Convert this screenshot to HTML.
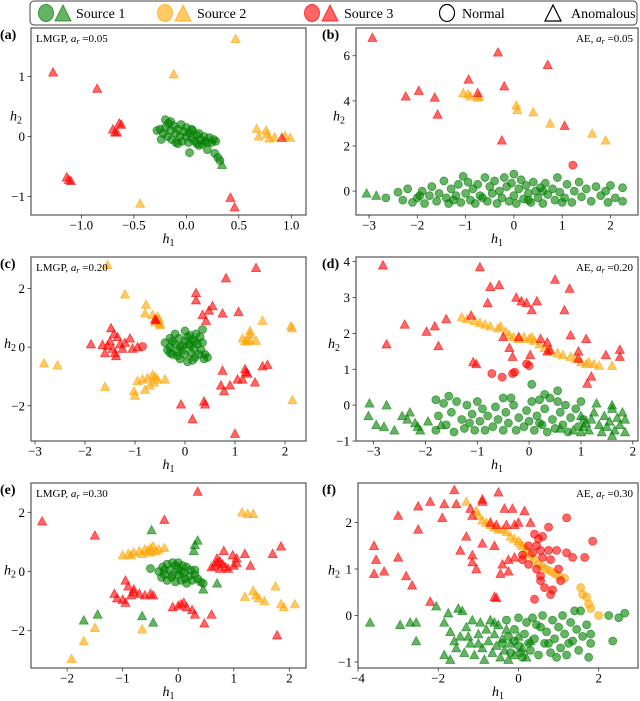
<!DOCTYPE html>
<html><head><meta charset="utf-8">
<style>
body{margin:0;background:#fff;}
svg{display:block;font-family:"Liberation Serif",serif;}
</style></head>
<body>
<svg id="fig" width="640" height="701" viewBox="0 0 640 701" xmlns="http://www.w3.org/2000/svg">
  <g>
    <rect x="30" y="1" width="607" height="24" rx="4" fill="#fff" stroke="#444" stroke-width="1"/>
    <g>
      <ellipse cx="46" cy="13" rx="7.5" ry="8.5" fill="rgba(0,128,0,0.6)" stroke="rgba(0,128,0,0.7)"/>
      <polygon points="55,21 63,5 71,21" fill="rgba(0,128,0,0.6)" stroke="rgba(0,128,0,0.7)"/>
      <text x="76" y="18" font-size="14">Source 1</text>
    </g>
    <g>
      <ellipse cx="165" cy="13" rx="7.5" ry="8.5" fill="rgba(255,165,0,0.6)" stroke="rgba(255,165,0,0.7)"/>
      <polygon points="175,21 183,5 191,21" fill="rgba(255,165,0,0.6)" stroke="rgba(255,165,0,0.7)"/>
      <text x="197" y="18" font-size="14">Source 2</text>
    </g>
    <g>
      <ellipse cx="312" cy="13" rx="7.5" ry="8.5" fill="rgba(255,0,0,0.6)" stroke="rgba(255,0,0,0.7)"/>
      <polygon points="322,21 330,5 338,21" fill="rgba(255,0,0,0.6)" stroke="rgba(255,0,0,0.7)"/>
      <text x="344" y="18" font-size="14">Source 3</text>
    </g>
    <g>
      <ellipse cx="447" cy="13" rx="7.5" ry="8.5" fill="none" stroke="#000" stroke-width="1.2"/>
      <text x="462" y="18" font-size="14">Normal</text>
    </g>
    <g>
      <polygon points="545,21 553,5 561,21" fill="none" stroke="#000" stroke-width="1.2"/>
      <text x="571" y="18" font-size="14">Anomalous</text>
    </g>
  </g>
</svg>
<script>
// ---- Panel (a) data ----
const aGreenCirc=[[-0.28,0.1],[-0.25,0.12],[-0.22,0.05],[-0.2,0.15],[-0.2,0.28],[-0.17,0.22],[-0.18,0.0],[-0.15,0.1],[-0.14,-0.05],[-0.12,0.18],[-0.1,0.05],[-0.1,-0.1],[-0.08,0.12],[-0.06,0.0],[-0.05,0.2],[-0.04,-0.08],[-0.02,0.08],[0.0,0.0],[0.0,0.15],[0.02,-0.1],[0.03,0.05],[0.05,-0.03],[0.06,0.1],[0.08,-0.08],[0.1,0.02],[0.1,-0.12],[0.12,0.05],[0.14,-0.05],[0.15,-0.13],[0.17,0.0],[0.18,-0.08],[0.2,-0.1],[0.22,-0.02],[0.24,-0.1],[0.26,-0.05],[0.28,-0.08],[0.2,-0.22],[0.27,-0.28],[0.3,-0.35],[0.32,-0.4],[0.03,-0.27],[-0.15,0.25],[-0.24,-0.05],[-0.08,-0.12],[0.05,0.12],[0.12,-0.15]];
const aGreenTri=[[0.34,-0.47]];
const aOrangeCirc=[];
const aOrangeTri=[[0.47,1.63],[-0.12,1.04],[-0.44,-1.12],[0.67,0.13],[0.69,0.0],[0.76,0.1],[0.77,0.04],[0.79,-0.03],[0.84,-0.01],[0.94,0.01],[0.99,-0.02]];
const aRedCirc=[];
const aRedTri=[[-1.27,1.07],[-0.85,0.8],[-0.64,0.22],[-0.62,0.2],[-0.7,0.12],[-0.68,0.07],[-0.66,0.07],[-1.14,-0.68],[-1.12,-0.72],[-1.1,-0.74],[0.42,-1.02],[0.46,-1.18],[0.91,-0.02]];
// ---- Panel (b) data ----
const bGreenCirc=[[-2.65,-0.3],[-2.4,-0.05],[-2.3,-0.4],[-2.2,0.1],[-2.1,-0.5],[-2.0,-0.3],[-1.9,0.0],[-1.85,-0.55],[-1.75,-0.2],[-1.7,0.2],[-1.6,-0.45],[-1.55,-0.1],[-1.45,0.45],[-1.4,-0.3],[-1.35,-0.55],[-1.3,0.1],[-1.2,-0.2],[-1.15,0.3],[-1.1,-0.5],[-1.05,0.65],[-1.0,-0.1],[-0.95,0.4],[-0.9,-0.4],[-0.85,0.1],[-0.8,-0.55],[-0.75,0.3],[-0.7,-0.2],[-0.6,0.6],[-0.55,-0.45],[-0.5,0.2],[-0.45,-0.1],[-0.4,0.45],[-0.35,-0.55],[-0.3,0.0],[-0.25,-0.3],[-0.2,0.6],[-0.15,0.2],[-0.1,-0.45],[-0.05,0.35],[0.0,0.75],[0.0,-0.2],[0.05,-0.55],[0.1,0.1],[0.15,0.5],[0.2,-0.35],[0.25,0.25],[0.3,-0.1],[0.35,-0.5],[0.4,0.4],[0.45,0.0],[0.5,-0.3],[0.55,0.15],[0.6,-0.55],[0.65,0.35],[0.7,-0.15],[0.8,0.1],[0.85,-0.4],[0.9,0.6],[0.95,-0.05],[1.05,-0.3],[1.1,0.3],[1.2,-0.5],[1.25,0.0],[1.35,0.4],[1.4,-0.25],[1.5,0.1],[1.6,-0.45],[1.7,0.2],[1.8,-0.2],[1.9,0.0],[1.95,-0.5],[2.0,0.25],[2.1,-0.3],[2.25,0.15],[2.25,-0.45],[-1.95,-0.2],[-1.25,-0.4],[-0.65,-0.3],[0.3,-0.4],[1.0,-0.5],[0.6,0.0]];
const bGreenTri=[[-3.05,-0.1],[-2.85,-0.2]];
const bOrangeCirc=[];
const bOrangeTri=[[-1.05,4.35],[-0.95,4.3],[-0.9,4.2],[-0.75,4.15],[-0.72,4.2],[0.05,3.8],[0.07,3.6],[0.4,3.5],[0.75,3.0],[1.62,2.55],[1.9,2.25]];
const bRedCirc=[[1.22,1.15]];
const bRedTri=[[-2.93,6.8],[-2.24,4.2],[-1.97,4.45],[-1.64,4.15],[-1.58,3.4],[-0.94,4.95],[-0.75,4.35],[-0.33,6.15],[-0.2,4.65],[-0.25,2.25],[0.7,5.6],[1.05,2.9]];
// ---- Panel (c) data ----
const cGreenCirc=[[-0.4,0.15],[-0.35,-0.1],[-0.3,0.3],[-0.3,0.0],[-0.25,-0.25],[-0.2,0.45],[-0.2,0.1],[-0.15,-0.15],[-0.12,0.3],[-0.1,-0.4],[-0.05,0.05],[0.0,0.55],[0.0,-0.25],[0.0,0.2],[0.05,-0.5],[0.08,0.1],[0.1,0.4],[0.12,-0.2],[0.15,0.25],[0.18,-0.05],[0.2,-0.35],[0.22,0.45],[0.25,0.1],[0.28,-0.25],[0.3,0.35],[0.32,-0.1],[0.35,0.15],[0.38,-0.4],[0.4,-0.25],[0.45,-0.35],[0.35,0.6],[-0.25,0.2],[-0.1,0.0],[0.05,0.35],[0.15,-0.45],[-0.15,-0.3],[0.1,0.05],[-0.05,-0.1],[0.2,0.2],[-0.3,-0.2]];
const cGreenTri=[];
const cOrangeCirc=[];
const cOrangeTri=[[-1.55,2.8],[-1.2,1.8],[-0.78,1.45],[-0.8,1.15],[-0.65,1.1],[-0.55,1.05],[-0.52,0.95],[-0.6,0.85],[-0.5,0.8],[-0.5,0.75],[1.3,0.55],[1.3,0.45],[1.55,0.9],[1.15,0.3],[1.3,0.25],[1.25,0.2],[1.42,0.22],[1.2,0.2],[2.12,0.72],[2.14,0.65],[-2.82,-0.55],[-2.55,-0.62],[-1.6,-1.35],[-1.02,-1.5],[-1.0,-1.65],[-0.8,-1.45],[-0.7,-1.3],[-0.95,-1.15],[-0.85,-1.1],[-0.75,-1.05],[-0.6,-1.0],[-0.55,-1.1],[-0.62,-1.2],[-0.4,-1.1],[-0.65,-0.95],[2.15,-1.8]];
const cRedCirc=[[-0.85,0.02]];
const cRedTri=[[1.42,2.7],[0.82,2.35],[0.22,1.85],[0.22,1.6],[0.55,1.4],[0.48,1.25],[0.35,1.1],[0.75,1.15],[1.07,1.2],[0.42,0.9],[-0.6,0.95],[-0.58,0.92],[-1.48,0.65],[-1.42,0.45],[-1.35,0.35],[-1.5,0.2],[-1.1,0.3],[-1.2,0.15],[-1.3,0.1],[-1.88,0.1],[-1.65,0.08],[-1.55,0.05],[-1.45,-0.05],[-1.25,-0.05],[-1.05,-0.05],[-0.95,0.0],[-1.6,-0.2],[-1.4,-0.2],[-1.38,-0.3],[1.2,-0.75],[1.22,-0.85],[1.25,-0.9],[1.55,-0.65],[1.65,-0.6],[0.75,-0.8],[1.05,-1.1],[1.15,-1.1],[1.4,-1.2],[0.72,-1.3],[0.9,-1.3],[0.78,-1.5],[0.38,-1.85],[0.4,-1.95],[-0.08,-1.95],[0.15,-2.45],[1.0,-2.95]];
// ---- Panel (d) data ----
const dGreenCirc=[[-1.8,0.15],[-1.8,-0.7],[-1.75,-0.3],[-1.65,0.05],[-1.6,-0.55],[-1.55,0.25],[-1.5,-0.2],[-1.45,-0.75],[-1.4,0.1],[-1.3,-0.4],[-1.25,-0.65],[-1.2,0.0],[-1.1,-0.25],[-1.05,-0.7],[-1.0,0.1],[-0.95,-0.45],[-0.9,-0.1],[-0.85,-0.7],[-0.8,-0.3],[-0.7,-0.6],[-0.65,-0.05],[-0.6,-0.4],[-0.5,0.2],[-0.5,-0.7],[-0.45,-0.2],[-0.4,-0.5],[-0.3,0.0],[-0.25,-0.7],[-0.2,-0.35],[-0.1,-0.6],[-0.05,-0.15],[0.0,-0.45],[0.05,0.1],[0.1,-0.7],[0.15,-0.3],[0.2,0.15],[0.25,-0.55],[0.3,-0.1],[0.35,-0.75],[0.4,0.2],[0.45,-0.4],[0.5,-0.65],[0.55,0.1],[0.6,-0.2],[0.65,-0.55],[0.7,0.0],[0.75,-0.75],[0.8,-0.35],[0.9,-0.1],[0.95,-0.6],[1.0,0.1],[1.05,-0.4],[0.05,0.58],[0.55,0.4],[0.3,0.3],[-0.35,0.2],[-1.15,-0.5],[0.2,-0.5]];
const dGreenTri=[[-3.08,0.05],[-3.1,-0.3],[-2.95,-0.55],[-2.8,-0.6],[-2.75,0.0],[-2.6,-0.7],[-2.45,-0.3],[-2.35,-0.4],[-2.3,-0.2],[-2.2,-0.5],[-2.15,-0.6],[-2.1,-0.7],[-1.95,-0.45],[-1.7,-0.55],[1.0,-0.3],[1.05,-0.6],[1.1,-0.5],[1.15,-0.7],[1.2,-0.4],[1.25,-0.2],[1.3,0.05],[1.35,-0.55],[1.4,-0.75],[1.45,-0.3],[1.5,-0.6],[1.55,-0.45],[1.6,-0.1],[1.6,0.0],[1.65,-0.7],[1.7,-0.35],[1.75,-0.55],[1.8,-0.2],[1.85,-0.75],[1.85,-0.4],[0.85,-0.7],[0.6,-0.65],[1.0,-0.75],[1.6,-0.85]];
const dOrangeCirc=[];
const dOrangeTri=[[-1.3,2.45],[-1.2,2.4],[-1.05,2.35],[-0.95,2.3],[-0.85,2.25],[-0.75,2.2],[-0.6,2.15],[-0.45,2.05],[-0.38,1.95],[-0.3,1.9],[-0.2,1.85],[-0.1,1.9],[0.0,1.85],[0.1,1.8],[0.2,1.7],[0.3,1.6],[0.4,1.5],[0.55,1.45],[0.65,1.4],[0.8,1.35],[0.9,1.3],[1.0,1.2],[1.1,1.15],[1.15,1.2],[1.25,1.15],[1.35,1.1],[1.6,1.1],[-0.55,2.2],[0.05,1.9]];
const dRedCirc=[[-0.72,0.88],[-0.52,0.78],[-0.32,0.88],[-0.28,0.92],[-0.05,1.15],[0.0,1.1]];
const dRedTri=[[-2.82,3.9],[-0.95,3.85],[-0.8,2.85],[-0.75,3.3],[-0.58,3.35],[-0.25,3.0],[-0.15,2.9],[-0.05,2.85],[0.05,2.65],[0.15,2.9],[0.5,3.5],[0.78,3.25],[0.68,2.65],[0.8,1.95],[1.1,1.85],[0.95,1.5],[-2.75,1.7],[-2.4,2.25],[-1.98,2.05],[-1.82,2.2],[-1.6,2.4],[-1.75,1.65],[-1.12,2.5],[-1.08,1.2],[-1.02,1.15],[-0.5,1.9],[-0.38,1.6],[-0.32,1.35],[0.02,1.4],[-0.2,1.9],[0.22,1.85],[0.35,1.75],[0.4,1.55],[0.95,1.3],[1.2,0.8],[1.12,0.6],[1.48,1.4],[1.75,1.55],[1.75,1.35],[0.35,1.5]];
// ---- Panel (e) data ----
const eGreenCirc=[[-0.35,0.0],[-0.3,-0.2],[-0.28,0.15],[-0.25,-0.1],[-0.2,0.25],[-0.2,-0.3],[-0.15,0.05],[-0.12,-0.2],[-0.1,0.3],[-0.05,-0.35],[0.0,0.1],[0.0,-0.1],[0.0,0.3],[0.05,-0.3],[0.08,0.2],[0.1,-0.05],[0.12,-0.25],[0.15,0.15],[0.2,-0.15],[0.22,0.05],[0.25,-0.3],[0.3,-0.1],[0.35,-0.25],[0.4,-0.35],[-0.1,-0.1],[0.05,0.0],[-0.25,0.05],[0.15,-0.4],[-0.5,0.1],[0.45,-0.4],[0.3,0.05],[-0.05,0.2]];
const eGreenTri=[[-0.48,1.4],[0.35,1.05],[0.3,0.9],[0.28,0.7],[0.7,-0.4],[0.45,-0.6],[-1.45,-1.45],[-0.65,-1.5],[-1.7,-1.65],[-0.45,-1.72]];
const eOrangeCirc=[];
const eOrangeTri=[[-1.0,0.55],[-0.9,0.6],[-0.8,0.65],[-0.7,0.7],[-0.65,0.6],[-0.6,0.75],[-0.55,0.7],[-0.5,0.8],[-0.45,0.85],[-0.4,0.7],[-0.35,0.75],[-0.25,0.8],[-0.5,0.65],[-0.85,0.55],[1.15,2.0],[1.25,1.95],[1.35,1.95],[1.75,-0.5],[1.35,-0.65],[1.4,-0.8],[1.2,-0.85],[1.45,-0.9],[1.55,-1.0],[1.85,-1.1],[1.9,-1.2],[2.1,-1.1],[-1.5,-1.9],[-0.65,-1.95],[-1.7,-2.35],[-1.92,-2.95]];
const eRedCirc=[];
const eRedTri=[[0.35,2.7],[-0.25,1.75],[-2.45,1.7],[-1.5,1.22],[0.82,0.7],[0.98,0.55],[1.05,0.45],[1.2,0.6],[1.7,0.6],[1.85,0.85],[0.65,0.2],[0.7,0.3],[0.75,0.35],[0.8,0.25],[0.85,0.15],[0.75,0.1],[0.9,0.1],[0.6,0.15],[0.7,0.45],[1.05,0.3],[1.0,0.2],[1.3,0.2],[-0.95,-0.3],[-0.9,-0.5],[-0.8,-0.6],[-1.15,-0.75],[-1.1,-0.9],[-1.0,-0.95],[-0.95,-1.05],[-0.7,-0.75],[-0.6,-0.8],[-0.5,-0.75],[-0.45,-0.8],[-0.85,-0.8],[-0.8,-0.7],[0.0,-1.15],[0.05,-1.1],[0.1,-1.05],[0.15,-1.2],[0.25,-1.3],[0.3,-1.45],[-0.1,-1.2],[0.6,-1.45],[0.47,-1.75],[1.78,-2.15]];
// ---- Panel (f) data ----
const fGreenCirc=[[-0.4,-0.6],[-0.3,-0.1],[-0.2,-0.8],[-0.1,-0.3],[0.0,-0.65],[0.0,-0.05],[0.1,-0.9],[0.15,-0.4],[0.2,-0.15],[0.3,-0.75],[0.35,-0.05],[0.4,-0.5],[0.5,-0.85],[0.55,-0.25],[0.6,0.0],[0.65,-0.6],[0.7,-0.35],[0.8,-0.8],[0.85,-0.1],[0.9,-0.5],[1.0,-0.25],[1.05,-0.7],[1.1,0.0],[1.15,-0.4],[1.2,-0.85],[1.3,-0.15],[1.35,-0.55],[1.4,0.1],[1.45,-0.3],[1.5,-0.75],[1.55,0.1],[1.6,-0.45],[1.7,-0.2],[1.75,-0.9],[1.8,-0.4],[1.8,-0.6],[2.25,0.0],[2.5,-0.05],[2.65,0.05],[2.35,-0.55],[-0.1,-0.55],[0.25,-0.6],[0.45,-0.2],[0.75,-0.6],[1.25,-0.6],[0.95,-0.9],[0.05,-0.8],[-0.25,-0.45]];
const fGreenTri=[[-3.7,-0.15],[-2.95,-0.2],[-2.7,-0.15],[-2.55,-0.15],[-2.55,-0.55],[-2.05,0.2],[-1.75,0.05],[-1.5,0.15],[-1.4,0.1],[-1.85,-0.15],[-1.7,-0.35],[-1.6,-0.55],[-1.85,-0.85],[-1.7,-0.95],[-1.55,-0.7],[-1.45,-0.45],[-1.35,-0.8],[-1.3,-0.25],[-1.2,-0.6],[-1.15,-0.1],[-1.1,-0.85],[-1.0,-0.4],[-0.95,-0.15],[-0.9,-0.7],[-0.85,-0.95],[-0.8,-0.3],[-0.75,-0.55],[-0.7,-0.1],[-0.65,-0.8],[-0.6,-0.4],[-0.55,-0.65],[-0.5,-0.2],[-0.45,-0.9],[-0.4,-0.5],[-0.35,-0.75],[-0.3,-0.3],[-0.2,-0.6],[-0.1,-0.85],[0.0,-0.45],[0.1,-0.7],[0.2,-0.9],[0.3,-0.55],[-1.0,-0.6],[-0.6,-0.15],[-0.25,-0.95],[-1.25,-0.45]];
const fOrangeCirc=[[0.3,1.3],[0.4,1.2],[0.5,1.1],[0.6,1.05],[0.7,1.0],[0.8,0.95],[0.9,0.9],[1.0,0.85],[1.15,0.8],[1.55,0.6],[1.6,0.45],[1.7,0.4],[1.75,0.25],[1.8,0.15],[2.0,0.0]];
const fOrangeTri=[[-1.3,2.45],[-1.05,2.25],[-1.0,2.15],[-0.9,2.05],[-0.8,2.0],[-0.7,1.95],[-0.6,1.9],[-0.5,1.85],[-0.4,1.85],[-0.3,1.8],[-0.2,1.7],[-0.1,1.65],[0.0,1.6],[0.05,1.55],[0.1,1.5],[0.2,1.45],[0.15,1.35]];
const fRedCirc=[[1.2,2.1],[0.75,1.9],[0.4,1.75],[0.5,1.65],[0.6,1.7],[0.25,1.5],[0.45,1.5],[0.35,1.35],[0.55,1.4],[0.75,1.4],[0.6,1.25],[1.2,1.35],[1.35,1.25],[1.65,1.25],[1.85,1.6],[0.1,1.2],[0.25,1.1],[0.8,1.2],[0.95,1.4],[0.45,1.0],[0.55,0.85],[0.55,0.75],[0.65,0.6],[0.85,0.55],[0.8,0.45],[0.4,0.35],[1.05,0.75],[0.1,1.3],[1.0,1.0]];
const fRedTri=[[-1.6,2.7],[-0.5,2.65],[-2.2,2.45],[-2.5,2.35],[-1.85,2.4],[-3.0,2.15],[-1.9,2.1],[-2.5,1.85],[-1.15,2.15],[-1.2,2.3],[-0.9,2.45],[-0.9,2.5],[-0.35,2.3],[-0.15,2.3],[0.15,2.25],[-0.7,2.0],[-0.55,1.95],[-0.3,1.95],[-0.1,1.95],[-1.45,1.4],[-1.15,1.3],[-1.15,1.15],[-0.9,1.55],[-0.6,1.5],[-0.25,1.2],[-0.4,1.1],[-0.25,0.95],[-0.45,0.9],[-1.05,1.0],[-1.3,1.7],[-3.6,1.5],[-3.55,1.2],[-3.6,0.9],[-3.35,0.95],[-3.0,1.25],[-2.8,0.85],[-2.65,0.65],[-2.2,0.3],[-0.6,0.4],[-0.55,0.38],[-0.1,1.25],[0.0,2.0],[0.3,2.0],[-1.55,2.4]];
// ---- Tick labels ----
const aXTicks=[-1.0,-0.5,0.0,0.5,1.0], aYTicks=[-1,0,1];
const bXTicks=[-3,-2,-1,0,1,2], bYTicks=[0,2,4,6];
const cXTicks=[-3,-2,-1,0,1,2], cYTicks=[-2,0,2];
const dXTicks=[-3,-2,-1,0,1,2], dYTicks=[-1,0,1,2,3,4];
const eXTicks=[-2,-1,0,1,2], eYTicks=[-2,0,2];
const fXTicks=[-4,-2,0,2], fYTicks=[-1,0,1,2];

const NS="http://www.w3.org/2000/svg";
const svg=document.getElementById('fig');
function mk(tag,attrs,parent){const e=document.createElementNS(NS,tag);for(const k in attrs)e.setAttribute(k,attrs[k]);(parent||svg).appendChild(e);return e;}
const COL={green:'0,128,0',orange:'255,165,0',red:'255,0,0'};
function fmt(v,dec){let s=dec?v.toFixed(1):String(v);return s.replace('-','\u2212');}

function panel(p){
  const g=mk('g',{});
  
  
  const sx=v=>p.l+(v-p.x0)/(p.x1-p.x0)*(p.r-p.l);
  const sy=v=>p.b-(v-p.y0)/(p.y1-p.y0)*(p.b-p.t);
  const clip=mk('clipPath',{id:'clip'+p.id},g);
  mk('rect',{x:p.l,y:p.t,width:p.r-p.l,height:p.b-p.t},clip);
  const marks=mk('g',{'clip-path':'url(#clip'+p.id+')'},g);
  
  
  p.series.forEach(s=>{
    const c=COL[s.color];
    s.data.forEach(d=>{
      const x=sx(d[0]), y=sy(d[1]); let el;
      if(s.shape==='c'){el=mk('circle',{cx:x,cy:y,r:4,fill:'rgba('+c+',0.6)',stroke:'rgba('+c+',0.65)','stroke-width':0.8},marks);}
      else{el=mk('polygon',{points:(x-4.5)+','+(y+3.8)+' '+x+','+(y-4.6)+' '+(x+4.5)+','+(y+3.8),fill:'rgba('+c+',0.6)',stroke:'rgba('+c+',0.65)','stroke-width':0.8},marks);}
      
      
    });
  });
  const fr=mk('rect',{x:p.l,y:p.t,width:p.r-p.l,height:p.b-p.t,fill:'none',stroke:'#555','stroke-width':1.2},g);
  
  
  p.xt.forEach(v=>{
    const x=sx(v);
    mk('line',{x1:x,x2:x,y1:p.b,y2:p.b+3.5,stroke:'#333','stroke-width':0.8},g);
    const t=mk('text',{x:x,y:p.b+14.5,'font-size':13,'text-anchor':'middle'},g);
    t.textContent=fmt(v,p.xdec);
    
    
  });
  p.yt.forEach(v=>{
    const y=sy(v);
    mk('line',{x1:p.l-3.5,x2:p.l,y1:y,y2:y,stroke:'#333','stroke-width':0.8},g);
    const t=mk('text',{x:p.l-6,y:y+4.5,'font-size':13,'text-anchor':'end'},g);
    t.textContent=fmt(v,false);
    
    
  });
  const xl=mk('text',{x:(p.l+p.r)/2,y:p.b+28,'font-size':14,'font-style':'italic','text-anchor':'middle'},g);
  xl.innerHTML='h<tspan font-size="10" dy="3" font-style="normal">1</tspan>';
  
  
  const yl=mk('text',{x:p.hx,y:(p.t+p.b)/2-1,'font-size':14,'font-style':'italic'},g);
  yl.innerHTML='h<tspan font-size="10" dy="3" font-style="normal">2</tspan>';
  
  
  const pl=mk('text',{x:p.lx,y:p.t+11,'font-size':14,'font-weight':'bold'},g);
  pl.textContent='('+p.id+')';
  
  
  const an=mk('text',{x:p.right?p.r-5:p.l+5,y:p.t+14,'font-size':11,'text-anchor':p.right?'end':'start'},g);
  an.innerHTML=p.method+', <tspan font-style="italic">a</tspan><tspan font-style="italic" font-size="8" dy="2">r</tspan><tspan dy="-2"> =</tspan>'+p.ar;
  
  
}
function ser(gc,gt,oc,ot,rc,rt){return [{color:'green',shape:'c',data:gc},{color:'green',shape:'t',data:gt},{color:'orange',shape:'c',data:oc},{color:'orange',shape:'t',data:ot},{color:'red',shape:'c',data:rc},{color:'red',shape:'t',data:rt}];}
panel({id:'a',l:31,r:306,t:28,b:215,x0:-1.48,x1:1.14,y0:-1.31,y1:1.81,xt:aXTicks,yt:aYTicks,xdec:true,hx:10,lx:0,method:'LMGP',ar:'0.05',right:false,series:ser(aGreenCirc,aGreenTri,aOrangeCirc,aOrangeTri,aRedCirc,aRedTri)});
panel({id:'b',l:356,r:638,t:28,b:215,x0:-3.27,x1:2.57,y0:-1.06,y1:7.23,xt:bXTicks,yt:bYTicks,xdec:false,hx:333,lx:322,method:'AE',ar:'0.05',right:true,series:ser(bGreenCirc,bGreenTri,bOrangeCirc,bOrangeTri,bRedCirc,bRedTri)});
panel({id:'c',l:31,r:306,t:257,b:441,x0:-3.08,x1:2.42,y0:-3.2,y1:3.07,xt:cXTicks,yt:cYTicks,xdec:false,hx:4,lx:0,method:'LMGP',ar:'0.20',right:false,series:ser(cGreenCirc,cGreenTri,cOrangeCirc,cOrangeTri,cRedCirc,cRedTri)});
panel({id:'d',l:356,r:638,t:257,b:441,x0:-3.34,x1:2.1,y0:-1.0,y1:4.13,xt:dXTicks,yt:dYTicks,xdec:false,hx:328,lx:322,method:'AE',ar:'0.20',right:true,series:ser(dGreenCirc,dGreenTri,dOrangeCirc,dOrangeTri,dRedCirc,dRedTri)});
panel({id:'e',l:31,r:306,t:483,b:668,x0:-2.65,x1:2.3,y0:-3.26,y1:2.99,xt:eXTicks,yt:eYTicks,xdec:false,hx:4,lx:0,method:'LMGP',ar:'0.30',right:false,series:ser(eGreenCirc,eGreenTri,eOrangeCirc,eOrangeTri,eRedCirc,eRedTri)});
panel({id:'f',l:358,r:638,t:483,b:668,x0:-4.0,x1:2.98,y0:-1.13,y1:2.85,xt:fXTicks,yt:fYTicks,xdec:false,hx:328,lx:322,method:'AE',ar:'0.30',right:true,series:ser(fGreenCirc,fGreenTri,fOrangeCirc,fOrangeTri,fRedCirc,fRedTri)});
</script>
</body></html>
